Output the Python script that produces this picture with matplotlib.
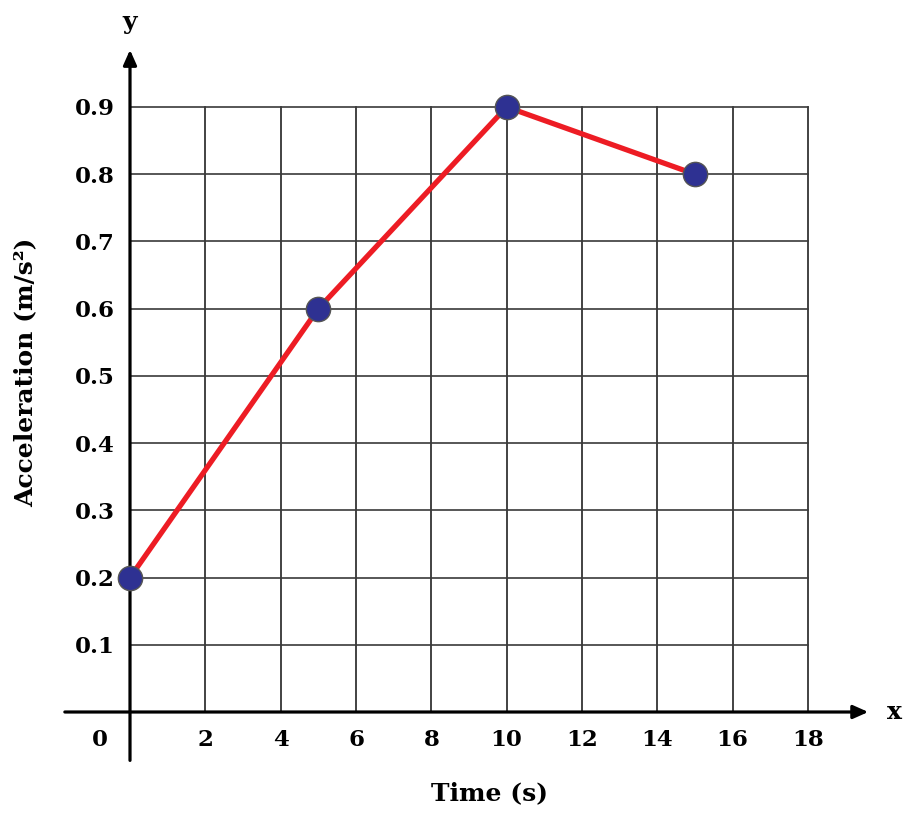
import matplotlib.pyplot as plt
from matplotlib.transforms import ScaledTranslation

# data
time_s = [0, 5, 10, 15]
accel = [0.2, 0.6, 0.9, 0.8]
x_ticks = [0, 2, 4, 6, 8, 10, 12, 14, 16, 18]
y_ticks = [0.1, 0.2, 0.3, 0.4, 0.5, 0.6, 0.7, 0.8, 0.9]
y_tick_labels = ['0.1', '0.2', '0.3', '0.4', '0.5', '0.6', '0.7', '0.8', '0.9']

plt.rcParams['font.family'] = 'DejaVu Serif'
plt.rcParams['font.weight'] = 'bold'

fig = plt.figure(figsize=(9.12, 8.17), dpi=100)
ax = fig.add_axes([130 / 912, 105 / 817, 678 / 912, 605 / 817])
ax.set_xlim(0, 18)
ax.set_ylim(0, 0.9)

for s in ax.spines.values():
    s.set_visible(False)

# grid
for xv in x_ticks[1:]:
    ax.plot([xv, xv], [0, 0.9], color='#222222', lw=1.2, zorder=1, clip_on=False)
for yv in y_ticks:
    ax.plot([0, 18], [yv, yv], color='#3a3a3a', lw=1.2, zorder=1, clip_on=False)

# axes with arrows
ax.annotate('', xy=(19.6, 0), xytext=(-1.73, 0), xycoords='data',
            arrowprops=dict(arrowstyle='-|>,head_length=0.9,head_width=0.4',
                            color='black', lw=2.3, shrinkA=0, shrinkB=0),
            annotation_clip=False, zorder=3)
ax.annotate('', xy=(0, 0.985), xytext=(0, -0.072), xycoords='data',
            arrowprops=dict(arrowstyle='-|>,head_length=0.9,head_width=0.4',
                            color='black', lw=2.3, shrinkA=0, shrinkB=0),
            annotation_clip=False, zorder=3)

# data line
ax.plot(time_s, accel, color='#ed1c24', lw=3.8, zorder=4, clip_on=False,
        solid_capstyle='butt')
ax.plot(time_s, accel, 'o', color='#2e3192', markersize=17.5,
        markeredgecolor='#555555', markeredgewidth=1.0, zorder=5, clip_on=False)

ax.set_xticks(x_ticks)
ax.set_xticklabels([str(v) for v in x_ticks])
ax.set_yticks(y_ticks)
ax.set_yticklabels(y_tick_labels)
ax.tick_params(axis='both', length=0, labelsize=16.5)
ax.tick_params(axis='x', pad=12)
ax.tick_params(axis='y', pad=11)
for lab in ax.get_xticklabels():
    if lab.get_text() == '0':
        lab.set_transform(lab.get_transform() + ScaledTranslation(-0.30, 0, fig.dpi_scale_trans))

ax.text(20.3, 0, 'x', fontsize=18, fontweight='bold', ha='center', va='center')
ax.text(0, 1.027, 'y', fontsize=18, fontweight='bold', ha='center', va='center')

fig.text(490 / 912, 1 - 793 / 817, 'Time (s)', fontsize=18, fontweight='bold',
         ha='center', va='center')
fig.text(25 / 912, 1 - 372 / 817, 'Acceleration (m/s²)', fontsize=18, fontweight='bold',
         ha='center', va='center', rotation=90)

fig.savefig('out.png', dpi=100)
